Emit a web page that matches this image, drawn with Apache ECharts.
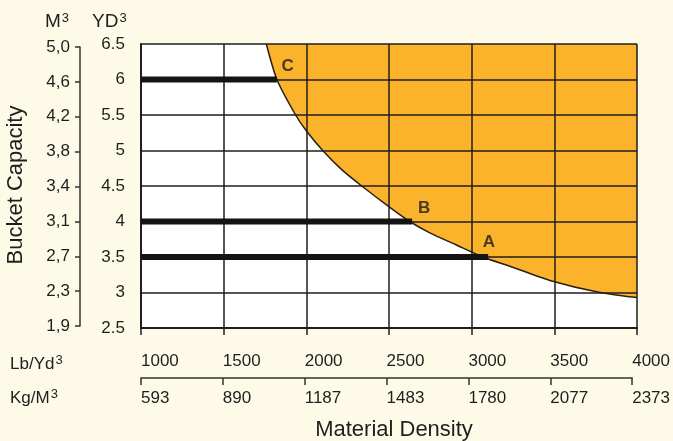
<!DOCTYPE html>
<html>
<head>
<meta charset="utf-8">
<script src="https://cdn.jsdelivr.net/npm/echarts@6/dist/echarts.min.js"></script>
<style>
html,body{margin:0;padding:0;background:#fdfbe8;}
#c{width:673px;height:441px;}
</style>
</head>
<body>
<div id="c"></div>
<script>
// Lb/Yd3 axis (main x) and its Kg/M3 equivalents
const lbMin = 1000, lbMax = 4000, lbStep = 500;
const kgLabels = ['593', '890', '1187', '1483', '1780', '2077', '2373'];
// YD3 axis (main y) and M3 equivalents
const ydMin = 2.5, ydMax = 6.5, ydStep = 0.5;
const m3Labels = ['1,9', '2,3', '2,7', '3,1', '3,4', '3,8', '4,2', '4,6', '5,0'];
// boundary curve of the shaded region
const curveX = [1758, 1822, 1935, 2002, 2099, 2214, 2335, 2505, 2626, 2747, 2898, 3068, 3231, 3473, 3776, 4000];
const curveY = [6.5, 6.0, 5.5, 5.27, 5.0, 4.73, 4.5, 4.2, 4.0, 3.84, 3.68, 3.5, 3.37, 3.17, 3.0, 2.93];
// thick reference bars (bucket size -> max density)
const barNames = ['C', 'B', 'A'];
const barY = [6, 4, 3.5];
const barEnd = [1822, 2640, 3100];
// letter positions
const letterX = [1887, 2713, 3104];
const letterY = [6.19, 4.19, 3.71];

const ink = '#1e1e1e';
const tickFont = 'Liberation Sans, Arial, sans-serif';

const chart = echarts.init(document.getElementById('c'));

const barSeries = barNames.map((n, i) => ({
  type: 'line', xAxisIndex: 0, yAxisIndex: 0, z: 6,
  symbol: 'none', silent: true,
  lineStyle: { color: '#141414', width: 6 },
  data: [[lbMin, barY[i]], [barEnd[i], barY[i]]]
}));

const supRich = { s: { fontSize: 13, padding: [0, 0, 8, 1], fontFamily: tickFont, fill: ink, color: ink } };

const option = {
  backgroundColor: '#fdfbe8',
  animation: false,
  grid: [
    { left: 141, right: 36, top: 44, bottom: 113, show: true, backgroundColor: '#ffffff', borderWidth: 0 },
    { left: 141, right: 38, top: 378, height: 1 },
    { left: 80, width: 1, top: 47, bottom: 115 }
  ],
  xAxis: [
    { type: 'value', gridIndex: 0, min: lbMin, max: lbMax, interval: lbStep, z: 5,
      axisLine: { show: true, onZero: false, lineStyle: { color: ink, width: 2 } },
      axisTick: { show: true, length: 7, lineStyle: { color: ink, width: 1.5 } },
      axisLabel: { show: false },
      splitLine: { show: true, lineStyle: { color: ink, width: 1.5 } } },
    { type: 'value', gridIndex: 1, position: 'top', min: lbMin, max: lbMax, interval: lbStep,
      axisLine: { show: true, onZero: false, lineStyle: { color: '#333', width: 1.5 } },
      axisTick: { show: true, inside: true, length: 7, lineStyle: { color: '#333', width: 1.5 } },
      axisLabel: { show: true, align: 'left', margin: 8, fontSize: 17, color: ink, fontFamily: tickFont,
        formatter: v => String(v) },
      splitLine: { show: false } },
    { type: 'value', gridIndex: 1, position: 'bottom', min: lbMin, max: lbMax, interval: lbStep,
      axisLine: { show: false }, axisTick: { show: false },
      axisLabel: { show: true, align: 'left', margin: 11, fontSize: 17, color: ink, fontFamily: tickFont,
        formatter: v => kgLabels[Math.round((v - lbMin) / lbStep)] },
      splitLine: { show: false } },
    { type: 'value', gridIndex: 2, min: 0, max: 1, show: false }
  ],
  yAxis: [
    { type: 'value', gridIndex: 0, min: ydMin, max: ydMax, interval: ydStep, z: 5,
      axisLine: { show: true, onZero: false, lineStyle: { color: ink, width: 2 } },
      axisTick: { show: false },
      axisLabel: { show: true, margin: 16, fontSize: 17, color: ink, fontFamily: tickFont },
      splitLine: { show: true, lineStyle: { color: ink, width: 1.5 } } },
    { type: 'value', gridIndex: 1, min: 0, max: 1, show: false },
    { type: 'value', gridIndex: 2, position: 'left', min: ydMin, max: ydMax, interval: ydStep,
      axisLine: { show: true, onZero: false, lineStyle: { color: '#333', width: 1.5 } },
      axisTick: { show: true, length: 5, lineStyle: { color: '#333', width: 1.5 } },
      axisLabel: { show: true, margin: 10, fontSize: 17, color: ink, fontFamily: tickFont,
        formatter: v => m3Labels[Math.round((v - ydMin) / ydStep)] },
      splitLine: { show: false } }
  ],
  series: [
    { type: 'line', xAxisIndex: 0, yAxisIndex: 0, z: 1, symbol: 'none', smooth: 0.25, silent: true,
      lineStyle: { color: '#2a2010', width: 1.5 },
      areaStyle: { color: '#fbb32c', opacity: 1, origin: 'end' },
      data: curveX.map((x, i) => [x, curveY[i]]) },
    ...barSeries,
    { type: 'scatter', xAxisIndex: 0, yAxisIndex: 0, z: 7, symbol: 'circle', symbolSize: 0, silent: true,
      itemStyle: { color: 'rgba(0,0,0,0)' },
      label: { show: true, position: 'inside', formatter: p => p.name, fontSize: 17, fontWeight: 'bold',
        color: '#1a1a1a', fontFamily: tickFont },
      data: barNames.map((n, i) => ({ name: n, value: [letterX[i], letterY[i]] })) }
  ],
  graphic: [
    { type: 'text', x: 45, y: 22, style: { text: 'M{s|3}', rich: supRich, font: '19px Liberation Sans, Arial, sans-serif', fill: ink, textAlign: 'left', textVerticalAlign: 'middle', align: 'left', verticalAlign: 'middle' } },
    { type: 'text', x: 92, y: 22, style: { text: 'YD{s|3}', rich: supRich, font: '19px Liberation Sans, Arial, sans-serif', fill: ink, textAlign: 'left', textVerticalAlign: 'middle', align: 'left', verticalAlign: 'middle' } },
    { type: 'text', x: 16, y: 185, rotation: Math.PI / 2, style: { text: 'Bucket Capacity', font: '22px Liberation Sans, Arial, sans-serif', fill: ink, textAlign: 'center', textVerticalAlign: 'middle', align: 'center', verticalAlign: 'middle' } },
    { type: 'text', x: 10, y: 364, style: { text: 'Lb/Yd{s|3}', rich: supRich, font: '17px Liberation Sans, Arial, sans-serif', fill: ink, textAlign: 'left', textVerticalAlign: 'middle', align: 'left', verticalAlign: 'middle' } },
    { type: 'text', x: 10, y: 398, style: { text: 'Kg/M{s|3}', rich: supRich, font: '17px Liberation Sans, Arial, sans-serif', fill: ink, textAlign: 'left', textVerticalAlign: 'middle', align: 'left', verticalAlign: 'middle' } },
    { type: 'text', x: 394, y: 430, style: { text: 'Material Density', font: '22px Liberation Sans, Arial, sans-serif', fill: ink, textAlign: 'center', textVerticalAlign: 'middle', align: 'center', verticalAlign: 'middle' } }
  ]
};
chart.setOption(option);
</script>
</body>
</html>
